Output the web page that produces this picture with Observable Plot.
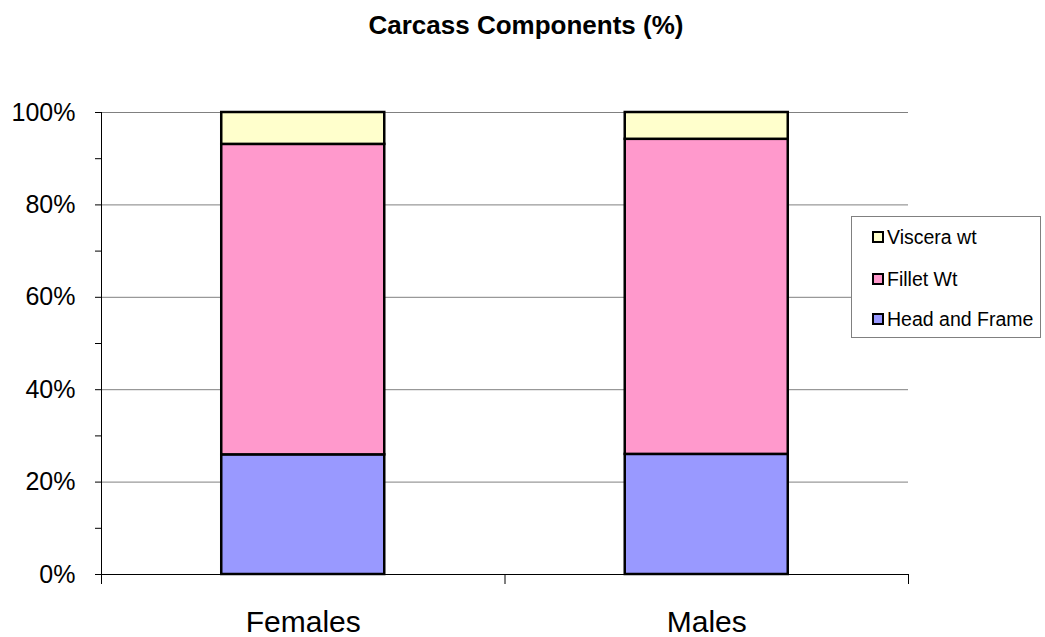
<!DOCTYPE html>
<html>
<head>
<meta charset="utf-8">
<script src="https://cdn.jsdelivr.net/npm/d3@7"></script>
<script src="https://cdn.jsdelivr.net/npm/@observablehq/plot@0.6"></script>
<style>
  html, body { margin: 0; padding: 0; background: white; }
  #wrap { position: relative; width: 1045px; height: 637px; font-family: "Liberation Sans", Arial, sans-serif; }
  #chart { position: absolute; left: 0; top: 0; }
  #title { position: absolute; left: 0; top: 12px; width: 1052px; text-align: center; font-weight: bold; font-size: 26px; line-height: 26px; color: #000; }
  #legend { position: absolute; left: 851px; top: 216px; width: 190px; height: 122px; border: 1px solid #808080; background: white; box-sizing: border-box; }
  .item { position: absolute; left: 20px; display: flex; align-items: center; font-size: 19.5px; line-height: 20px; color: #000; }
  .sw { width: 8px; height: 8px; border: 2px solid #000; margin-right: 3px; }
</style>
</head>
<body>
<div id="wrap">
  <div id="chart"></div>
  <div id="title">Carcass Components (%)</div>
  <div id="legend"></div>
</div>
<script>
const categories = ["Females", "Males"];
const seriesNames = ["Head and Frame", "Fillet Wt", "Viscera wt"];
const seriesColors = ["#9999FF", "#FF99CC", "#FFFFCC"];
const headFrame = [25.9, 26.0];
const filletWt = [67.2, 68.2];
const visceraWt = [6.9, 5.8];
const yTicks = [0, 20, 40, 60, 80, 100];
const yMinorTicks = [10, 30, 50, 70, 90];
const gridTicks = [20, 40, 60, 80, 100];

const seriesValues = [headFrame, filletWt, visceraWt];
const rows = [];
categories.forEach((c, i) => {
  let acc = 0;
  seriesNames.forEach((s, j) => {
    const v = seriesValues[j][i];
    rows.push({i, category: c, series: s, y1: acc, y2: acc + v});
    acc += v;
  });
});

const chart = Plot.plot({
  width: 1045,
  height: 637,
  marginLeft: 101,
  marginRight: 137,
  marginTop: 112,
  marginBottom: 63,
  style: {fontFamily: '"Liberation Sans", Arial, sans-serif', background: "white", color: "#000"},
  x: {domain: [0, categories.length], axis: null},
  y: {domain: [0, 100], axis: null},
  color: {domain: seriesNames, range: seriesColors},
  marks: [
    Plot.ruleY(gridTicks, {stroke: "#808080", strokeWidth: 1}),
    Plot.rect(rows, {
      x1: d => d.i + 0.298,
      x2: d => d.i + 0.702,
      y1: "y1",
      y2: "y2",
      fill: "series",
      stroke: "#000",
      strokeWidth: 2.5
    }),
    Plot.ruleX([0], {stroke: "#000", strokeWidth: 1}),
    Plot.ruleY([0], {stroke: "#000", strokeWidth: 1}),
    Plot.axisY(yTicks, {tickSize: 6, tickPadding: 20, tickFormat: d => d + "%", fontSize: 25, stroke: "#000"}),
    Plot.axisY(yMinorTicks, {tickSize: 6, tickFormat: () => "", stroke: "#000"}),
    Plot.axisX(d3.range(categories.length + 1), {tickSize: 10, tickFormat: () => "", stroke: "#000"}),
    Plot.axisX(categories.map((c, i) => i + 0.5), {tickSize: 0, tickPadding: 36, fontSize: 30, tickFormat: d => categories[Math.floor(d)]})
  ]
});
document.getElementById("chart").appendChild(chart);

const legend = document.getElementById("legend");
const order = [2, 1, 0];
const tops = [10, 52, 92];
order.forEach((j, k) => {
  const it = document.createElement("div");
  it.className = "item";
  it.style.top = tops[k] + "px";
  const sw = document.createElement("div");
  sw.className = "sw";
  sw.style.background = seriesColors[j];
  it.appendChild(sw);
  const t = document.createElement("span");
  t.textContent = seriesNames[j];
  it.appendChild(t);
  legend.appendChild(it);
});
</script>
</body>
</html>
